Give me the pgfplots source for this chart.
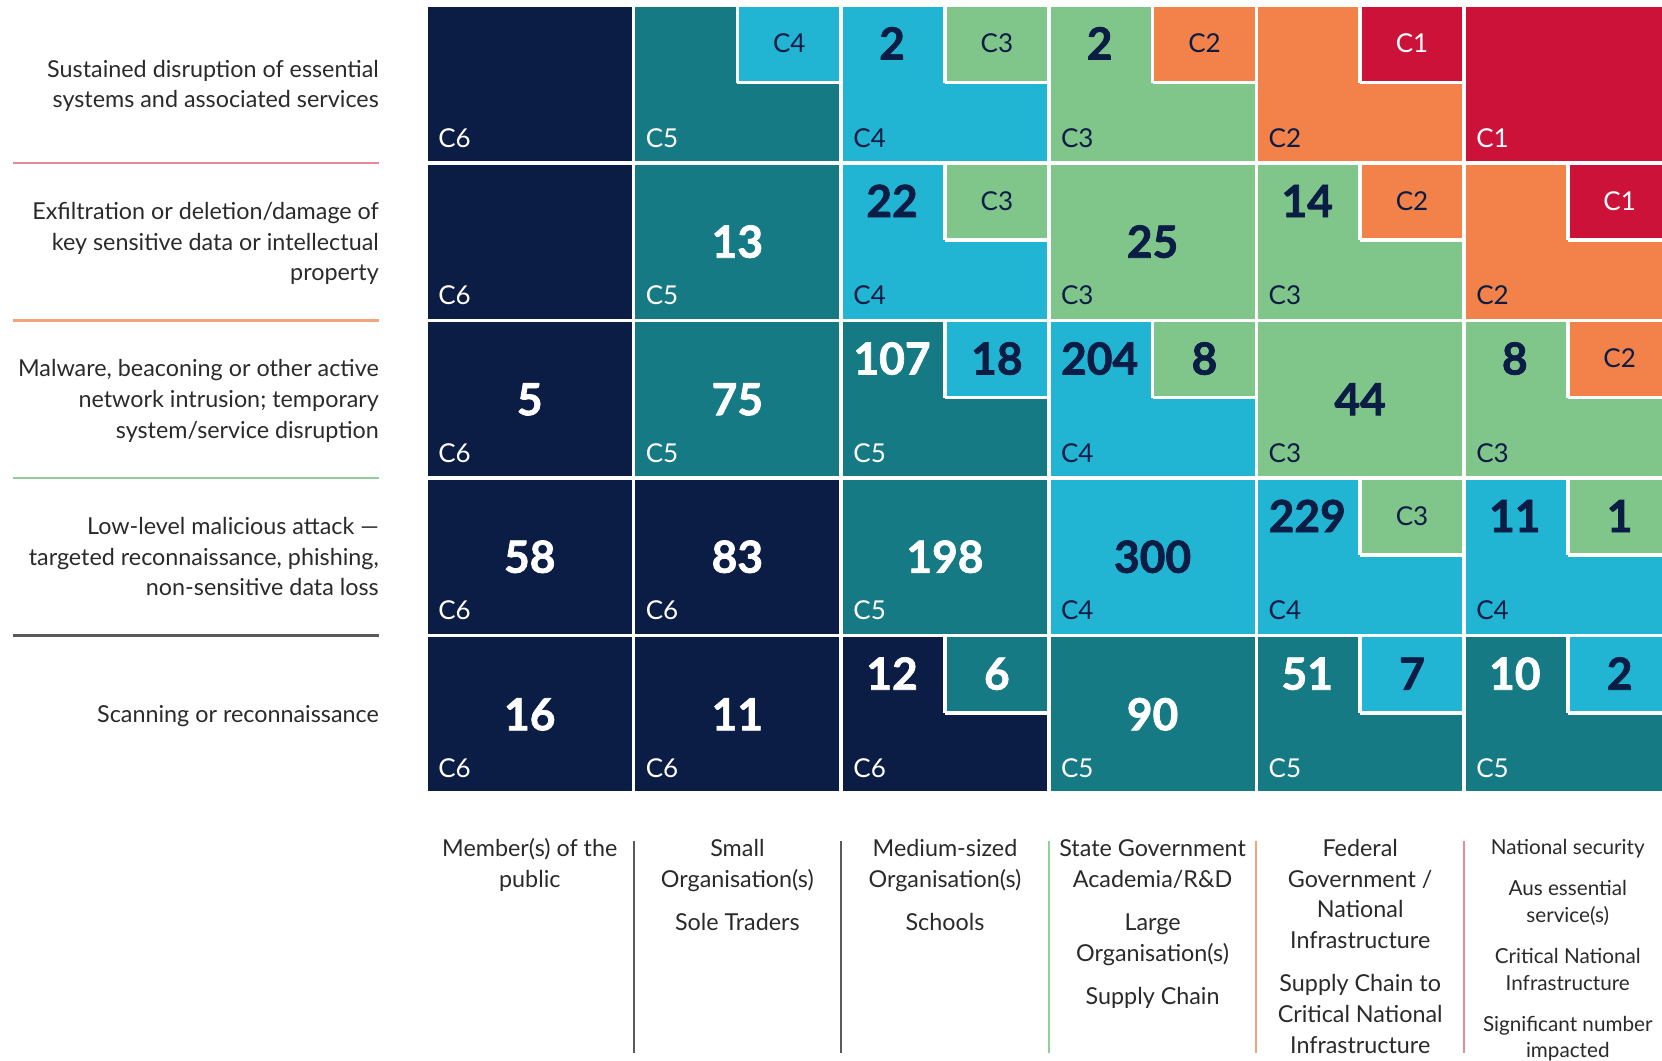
\documentclass[border=0pt]{standalone}
\usepackage{fontspec}
\setmainfont{Lato}
\newfontfamily\numfam{Lato}[BoldFeatures={FakeBold=1.6}]
\usepackage{pgfplots}
\pgfplotsset{compat=1.18}
\definecolor{cSix}{HTML}{0B1C45}
\definecolor{cFive}{HTML}{167A85}
\definecolor{cFour}{HTML}{22B4D3}
\definecolor{cThree}{HTML}{80C68B}
\definecolor{cTwo}{HTML}{F3824A}
\definecolor{cOne}{HTML}{CC1239}
\definecolor{dk}{HTML}{0B1C45}
\definecolor{txt}{HTML}{2A2A2A}
\definecolor{sepRed}{HTML}{E48A9A}
\definecolor{sepOrange}{HTML}{F4A47A}
\definecolor{sepGreen}{HTML}{93CD9C}
\definecolor{sepGray}{HTML}{5A5A5A}

\newcommand{\numfont}{\fontsize{13.3bp}{15bp}\selectfont\numfam\bfseries}
\newcommand{\clabfont}{\fontsize{7.8bp}{9bp}\selectfont}
\newcommand{\txtfont}{\fontsize{7bp}{9bp}\selectfont}
\newcommand{\txtfontS}{\fontsize{6.2bp}{8bp}\selectfont}

% rectangle through the axis: x1 y1 x2 y2 colour
\newcommand{\rect}[5]{%
  \edef\tmp{\noexpand\addplot[fill=#5, draw=white, line width=1.1bp, mark=none, forget plot]
    coordinates {(#1,#2) (#3,#2) (#3,#4) (#1,#4) (#1,#2)};}\tmp}
% full cell: col row colour label labelcolour
\newcommand{\cell}[5]{%
  \pgfmathsetmacro{\xa}{#1}\pgfmathsetmacro{\xb}{#1+1}%
  \pgfmathsetmacro{\ya}{#2}\pgfmathsetmacro{\yb}{#2+1}%
  \rect{\xa}{\ya}{\xb}{\yb}{#3}%
  \node[anchor=base west, inner sep=0pt, text=#5, font=\clabfont] at (axis cs:#1+0.056,#2+0.1) {#4};}
% sub box (top right quarter): col row colour
\newcommand{\sub}[3]{%
  \pgfmathsetmacro{\xa}{#1+0.5}\pgfmathsetmacro{\xb}{#1+1}%
  \pgfmathsetmacro{\ya}{#2+0.51}\pgfmathsetmacro{\yb}{#2+1}%
  \rect{\xa}{\ya}{\xb}{\yb}{#3}}
\newcommand{\numc}[4]{\node[inner sep=0pt, anchor=center, text height=9.6bp, text depth=0pt, font=\numfont, text=#4] at (axis cs:#1+0.5,#2+0.5) {#3};}
\newcommand{\numtl}[4]{\node[inner sep=0pt, anchor=center, text height=9.6bp, text depth=0pt, font=\numfont, text=#4] at (axis cs:#1+0.245,#2+0.758) {#3};}
\newcommand{\subn}[4]{\node[inner sep=0pt, anchor=center, text height=9.6bp, text depth=0pt, font=\numfont, text=#4] at (axis cs:#1+0.75,#2+0.758) {#3};}
\newcommand{\subl}[4]{\node[inner sep=0pt, anchor=center, text height=5.6bp, text depth=0pt, font=\clabfont, text=#4] at (axis cs:#1+0.75,#2+0.758) {#3};}
\newcommand{\ltxt}[2]{\node[inner sep=0pt, anchor=east, text height=5bp, text depth=0pt, font=\txtfont, text=txt] at (axis cs:-0.224,#1) {#2};}
\newcommand{\btxt}[3]{\node[inner sep=0pt, anchor=center, text height=5bp, text depth=0pt, font=\txtfont, text=txt] at (axis cs:#1,#2) {#3};}
\newcommand{\btxtS}[3]{\node[inner sep=0pt, anchor=center, text height=4.45bp, text depth=0pt, font=\txtfontS, text=txt] at (axis cs:#1,#2) {#3};}

\begin{document}
\begin{tikzpicture}
\begin{axis}[
  width=498.6bp, height=318.3bp, scale only axis,
  xmin=-2.052, xmax=5.954, ymin=-1.7005, ymax=5.034,
  hide axis, clip=true]

% ---- Row: Sustained disruption (y=4)
\cell{0}{4}{cSix}{C6}{white}
\cell{1}{4}{cFive}{C5}{white}  \sub{1}{4}{cFour}  \subl{1}{4}{C4}{dk}
\cell{2}{4}{cFour}{C4}{dk}     \sub{2}{4}{cThree} \subl{2}{4}{C3}{dk} \numtl{2}{4}{2}{dk}
\cell{3}{4}{cThree}{C3}{dk}    \sub{3}{4}{cTwo}   \subl{3}{4}{C2}{dk} \numtl{3}{4}{2}{dk}
\cell{4}{4}{cTwo}{C2}{dk}      \sub{4}{4}{cOne}   \subl{4}{4}{C1}{white}
\cell{5}{4}{cOne}{C1}{white}

% ---- Row: Exfiltration (y=3)
\cell{0}{3}{cSix}{C6}{white}
\cell{1}{3}{cFive}{C5}{white}  \numc{1}{3}{13}{white}
\cell{2}{3}{cFour}{C4}{dk}     \sub{2}{3}{cThree} \subl{2}{3}{C3}{dk} \numtl{2}{3}{22}{dk}
\cell{3}{3}{cThree}{C3}{dk}    \numc{3}{3}{25}{dk}
\cell{4}{3}{cThree}{C3}{dk}    \sub{4}{3}{cTwo}   \subl{4}{3}{C2}{dk} \numtl{4}{3}{14}{dk}
\cell{5}{3}{cTwo}{C2}{dk}      \sub{5}{3}{cOne}   \subl{5}{3}{C1}{white}

% ---- Row: Malware (y=2)
\cell{0}{2}{cSix}{C6}{white}   \numc{0}{2}{5}{white}
\cell{1}{2}{cFive}{C5}{white}  \numc{1}{2}{75}{white}
\cell{2}{2}{cFive}{C5}{white}  \sub{2}{2}{cFour}  \subn{2}{2}{18}{dk} \numtl{2}{2}{107}{white}
\cell{3}{2}{cFour}{C4}{dk}     \sub{3}{2}{cThree} \subn{3}{2}{8}{dk}  \numtl{3}{2}{204}{dk}
\cell{4}{2}{cThree}{C3}{dk}    \numc{4}{2}{44}{dk}
\cell{5}{2}{cThree}{C3}{dk}    \sub{5}{2}{cTwo}   \subl{5}{2}{C2}{dk} \numtl{5}{2}{8}{dk}

% ---- Row: Low-level (y=1)
\cell{0}{1}{cSix}{C6}{white}   \numc{0}{1}{58}{white}
\cell{1}{1}{cSix}{C6}{white}   \numc{1}{1}{83}{white}
\cell{2}{1}{cFive}{C5}{white}  \numc{2}{1}{198}{white}
\cell{3}{1}{cFour}{C4}{dk}     \numc{3}{1}{300}{dk}
\cell{4}{1}{cFour}{C4}{dk}     \sub{4}{1}{cThree} \subl{4}{1}{C3}{dk} \numtl{4}{1}{229}{dk}
\cell{5}{1}{cFour}{C4}{dk}     \sub{5}{1}{cThree} \subn{5}{1}{1}{dk}  \numtl{5}{1}{11}{dk}

% ---- Row: Scanning (y=0)
\cell{0}{0}{cSix}{C6}{white}   \numc{0}{0}{16}{white}
\cell{1}{0}{cSix}{C6}{white}   \numc{1}{0}{11}{white}
\cell{2}{0}{cSix}{C6}{white}   \sub{2}{0}{cFive}  \subn{2}{0}{6}{white} \numtl{2}{0}{12}{white}
\cell{3}{0}{cFive}{C5}{white}  \numc{3}{0}{90}{white}
\cell{4}{0}{cFive}{C5}{white}  \sub{4}{0}{cFour}  \subn{4}{0}{7}{dk}   \numtl{4}{0}{51}{white}
\cell{5}{0}{cFive}{C5}{white}  \sub{5}{0}{cFour}  \subn{5}{0}{2}{dk}   \numtl{5}{0}{10}{white}

% ---- left labels
\ltxt{4.5975}{Sustained disruption of essential}
\ltxt{4.4025}{systems and associated services}
\ltxt{3.695}{Exfiltration or deletion/damage of}
\ltxt{3.5}{key sensitive data or intellectual}
\ltxt{3.305}{property}
\ltxt{2.695}{Malware, beaconing or other active}
\ltxt{2.5}{network intrusion; temporary}
\ltxt{2.305}{system/service disruption}
\ltxt{1.695}{Low-level malicious attack —}
\ltxt{1.5}{targeted reconnaissance, phishing,}
\ltxt{1.305}{non-sensitive data loss}
\ltxt{0.5}{Scanning or reconnaissance}

\draw[sepRed, line width=0.8bp]    (axis cs:-1.991,4) -- (axis cs:-0.224,4);
\draw[sepOrange, line width=0.8bp] (axis cs:-1.991,3) -- (axis cs:-0.224,3);
\draw[sepGreen, line width=0.8bp]  (axis cs:-1.991,2) -- (axis cs:-0.224,2);
\draw[sepGray, line width=0.8bp]   (axis cs:-1.991,1) -- (axis cs:-0.224,1);

% ---- bottom labels
\draw[sepGray, line width=0.6bp]   (axis cs:1,-0.305) -- (axis cs:1,-1.65);
\draw[sepGray, line width=0.6bp]   (axis cs:2,-0.305) -- (axis cs:2,-1.65);
\draw[sepGreen, line width=0.6bp]  (axis cs:3,-0.305) -- (axis cs:3,-1.65);
\draw[sepOrange, line width=0.6bp] (axis cs:4,-0.305) -- (axis cs:4,-1.65);
\draw[sepRed, line width=0.6bp]    (axis cs:5,-0.305) -- (axis cs:5,-1.65);

\btxt{0.5}{-0.349}{Member(s) of the}
\btxt{0.5}{-0.546}{public}
\btxt{1.5}{-0.349}{Small}
\btxt{1.5}{-0.546}{Organisation(s)}
\btxt{1.5}{-0.819}{Sole Traders}
\btxt{2.5}{-0.349}{Medium-sized}
\btxt{2.5}{-0.546}{Organisation(s)}
\btxt{2.5}{-0.819}{Schools}
\btxt{3.5}{-0.349}{State Government}
\btxt{3.5}{-0.546}{Academia/R\&D}
\btxt{3.5}{-0.819}{Large}
\btxt{3.5}{-1.015}{Organisation(s)}
\btxt{3.5}{-1.291}{Supply Chain}
\btxt{4.5}{-0.349}{Federal}
\btxt{4.5}{-0.546}{Government /}
\btxt{4.5}{-0.739}{National}
\btxt{4.5}{-0.933}{Infrastructure}
\btxt{4.5}{-1.209}{Supply Chain to}
\btxt{4.5}{-1.405}{Critical National}
\btxt{4.5}{-1.600}{Infrastructure}
\btxtS{5.5}{-0.343}{National security}
\btxtS{5.5}{-0.604}{Aus essential}
\btxtS{5.5}{-0.774}{service(s)}
\btxtS{5.5}{-1.035}{Critical National}
\btxtS{5.5}{-1.205}{Infrastructure}
\btxtS{5.5}{-1.466}{Significant number}
\btxtS{5.5}{-1.634}{impacted}
\end{axis}
\pgfresetboundingbox
\path (current axis.south west) rectangle (current axis.north east);
\end{tikzpicture}
\end{document}
